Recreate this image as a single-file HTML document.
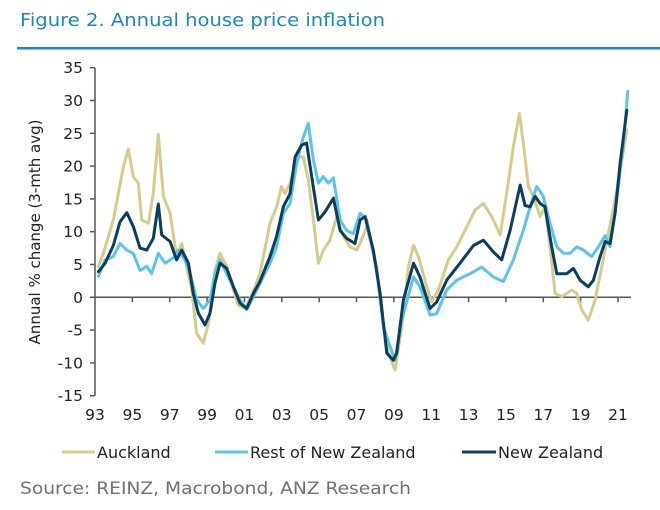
<!DOCTYPE html>
<html><head><meta charset="utf-8"><style>
body{margin:0;background:#fff;width:660px;height:506px;overflow:hidden;font-family:"DejaVu Sans",sans-serif}
</style></head><body>
<svg id="chart" width="660" height="506" xmlns="http://www.w3.org/2000/svg" font-family="DejaVu Sans, sans-serif">
<text x="20" y="26" font-size="18" fill="#1a86c6" textLength="365" lengthAdjust="spacingAndGlyphs">Figure 2. Annual house price inflation</text>
<rect x="17" y="47" width="643" height="2.5" fill="#1a86c6"/>
<text transform="translate(40,232) rotate(-90)" text-anchor="middle" font-size="15" fill="#222">Annual % change (3-mth avg)</text>
<g id="axes"></g>
<g id="series"></g>
<g>
<line x1="62" y1="452" x2="95" y2="452" stroke="#d4cc8c" stroke-width="3"/>
<text x="97" y="458" font-size="16" fill="#222">Auckland</text>
<line x1="215" y1="452" x2="248" y2="452" stroke="#5bc4e8" stroke-width="3"/>
<text x="250" y="458" font-size="16" fill="#222">Rest of New Zealand</text>
<line x1="462" y1="452" x2="496" y2="452" stroke="#0b3d5e" stroke-width="3"/>
<text x="498" y="458" font-size="16" fill="#222">New Zealand</text>
</g>
<text x="20" y="494" font-size="17" fill="#707070" textLength="391" lengthAdjust="spacingAndGlyphs">Source: REINZ, Macrobond, ANZ Research</text>
</svg>
<script>
const yTicks=[35,30,25,20,15,10,5,0,-5,-10,-15];
const xTickYears=[1993,1995,1997,1999,2001,2003,2005,2007,2009,2011,2013,2015,2017,2019,2021];
const xTickLabels=["93","95","97","99","01","03","05","07","09","11","13","15","17","19","21"];
const nzT=[1993.18,1993.54,1993.98,1994.34,1994.70,1995.05,1995.41,1995.77,1996.12,1996.39,1996.57,1997.02,1997.37,1997.64,1998.00,1998.26,1998.53,1998.89,1999.16,1999.42,1999.69,2000.05,2000.41,2000.76,2001.12,2001.48,2001.83,2002.37,2002.72,2003.08,2003.44,2003.71,2004.06,2004.33,2004.60,2004.96,2005.31,2005.76,2006.12,2006.47,2006.92,2007.19,2007.46,2007.90,2008.26,2008.62,2008.97,2009.15,2009.51,2010.05,2010.40,2010.94,2011.29,2011.83,2012.54,2013.26,2013.79,2014.33,2014.77,2015.22,2015.58,2015.76,2016.02,2016.29,2016.56,2016.83,2017.09,2017.45,2017.72,2018.25,2018.61,2018.97,2019.41,2019.68,2020.04,2020.31,2020.57,2020.84,2021.11,2021.47];
const nzV=[3.9,5.2,7.9,11.5,12.9,10.8,7.5,7.2,9.0,14.2,9.5,8.5,5.7,7.2,5.2,0.6,-2.4,-4.2,-2.4,2.1,5.2,4.4,1.6,-0.9,-1.7,0.6,2.4,6.2,9.3,13.8,15.8,21.4,23.2,23.5,18.4,11.8,13.0,15.1,10.2,9.0,8.2,11.8,12.3,7.2,0.6,-8.5,-9.6,-8.5,-0.4,5.2,3.1,-1.7,-0.7,2.6,5.2,7.9,8.7,6.9,5.7,10.2,14.8,17.1,14.0,13.8,15.4,14.3,13.8,7.7,3.6,3.6,4.4,2.6,1.6,2.6,6.2,8.5,8.2,12.8,20.4,28.5];
const aklT=[1993.18,1993.45,1993.98,1994.52,1994.78,1995.05,1995.32,1995.50,1995.86,1996.12,1996.39,1996.66,1997.02,1997.37,1997.64,1997.91,1998.18,1998.44,1998.80,1999.07,1999.42,1999.69,2000.05,2000.41,2000.67,2001.03,2001.48,2001.83,2002.37,2002.72,2002.99,2003.17,2003.44,2003.80,2004.15,2004.42,2004.69,2004.96,2005.22,2005.58,2005.94,2006.29,2006.65,2007.01,2007.19,2007.55,2008.08,2008.44,2008.71,2009.06,2009.42,2009.78,2010.05,2010.31,2010.76,2011.03,2011.38,2011.92,2012.37,2012.72,2013.35,2013.79,2014.24,2014.69,2015.04,2015.40,2015.72,2015.93,2016.20,2016.47,2016.83,2017.09,2017.36,2017.63,2017.99,2018.52,2018.79,2019.06,2019.41,2019.77,2020.13,2020.48,2020.84,2021.20,2021.47];
const aklV=[4.7,6.7,11.8,19.9,22.6,18.4,17.4,11.8,11.3,15.9,24.8,15.4,12.8,6.2,8.2,4.7,1.1,-5.5,-7.0,-4.0,4.1,6.7,4.7,1.1,-1.2,-1.7,0.9,3.6,11.3,13.8,16.9,15.8,17.4,21.4,21.4,17.9,11.8,5.2,7.2,8.7,12.3,9.3,7.7,7.2,8.2,10.8,4.7,-4.5,-8.5,-11.1,-4.5,4.7,7.9,6.2,1.6,-0.7,1.1,5.7,7.7,9.7,13.3,14.3,12.3,9.5,15.9,23.0,28.0,23.5,16.9,15.4,12.3,13.8,7.7,0.6,0.1,1.1,0.6,-1.9,-3.5,-0.4,4.7,9.7,14.8,20.9,25.5];
const restT=[1993.18,1993.54,1993.98,1994.34,1994.70,1995.05,1995.41,1995.77,1996.03,1996.39,1996.75,1997.19,1997.46,1997.82,1998.09,1998.44,1998.80,1999.16,1999.42,1999.69,2000.05,2000.41,2000.76,2001.12,2001.48,2001.83,2002.37,2002.72,2003.08,2003.44,2003.80,2004.15,2004.42,2004.69,2004.96,2005.22,2005.49,2005.76,2006.12,2006.47,2006.83,2007.19,2007.55,2008.08,2008.44,2008.80,2009.06,2009.42,2010.05,2010.40,2010.94,2011.29,2011.83,2012.37,2013.08,2013.70,2014.33,2014.86,2015.40,2015.93,2016.29,2016.65,2017.00,2017.36,2017.72,2018.08,2018.43,2018.79,2019.15,2019.59,2019.95,2020.31,2020.57,2020.93,2021.29,2021.52];
const restV=[3.2,5.7,6.2,8.2,7.2,6.7,4.1,4.7,3.6,6.7,5.2,6.0,7.2,5.7,3.6,-0.4,-1.7,-0.4,3.6,5.7,3.6,1.6,-0.4,-1.9,0.1,2.1,5.2,7.7,12.8,14.3,20.4,24.4,26.5,20.9,17.4,18.4,17.4,18.2,11.8,10.2,9.7,12.8,11.8,4.1,-4.5,-7.5,-9.6,-3.5,3.1,1.6,-2.7,-2.5,1.1,2.6,3.6,4.6,3.1,2.4,5.7,10.2,13.8,16.9,15.4,11.3,7.7,6.7,6.7,7.7,7.2,6.2,7.7,9.4,7.7,14.8,23.5,31.4];

const NS="http://www.w3.org/2000/svg";
const X0=95,PXY=18.68,Y0=297.3,PXV=6.56;
function xs(t){return X0+(t-1993)*PXY;}
function ys(v){return Y0-v*PXV;}
const axes=document.getElementById('axes');
function mk(tag,attrs,parent){const e=document.createElementNS(NS,tag);for(const k in attrs)e.setAttribute(k,attrs[k]);parent.appendChild(e);return e;}
const yAxis=mk('line',{x1:X0,y1:ys(35),x2:X0,y2:ys(-15),stroke:'#555','stroke-width':1.5},axes);


const xAxis=mk('line',{x1:X0,y1:Y0,x2:631,y2:Y0,stroke:'#555','stroke-width':1.5},axes);


yTicks.forEach(v=>{
  mk('line',{x1:X0-5,y1:ys(v),x2:X0,y2:ys(v),stroke:'#555','stroke-width':1.5},axes);
  const t=mk('text',{x:X0-12,y:ys(v)+5.5,'text-anchor':'end','font-size':15.5,fill:'#222'},axes);
  t.textContent=v;
  
  
});
xTickYears.forEach((yr,i)=>{
  if(i>0)mk('line',{x1:xs(yr),y1:Y0,x2:xs(yr),y2:Y0+5,stroke:'#555','stroke-width':1.5},axes);
  const t=mk('text',{x:xs(yr),y:420,'text-anchor':'middle','font-size':15.5,fill:'#222'},axes);
  t.textContent=xTickLabels[i];
  
  
});
const series=document.getElementById('series');
function draw(T,V,color,name){
  const d=T.map((t,i)=>(i?'L':'M')+xs(t).toFixed(1)+','+ys(V[i]).toFixed(1)).join(' ');
  const p=mk('path',{d:d,fill:'none',stroke:color,'stroke-width':3,'stroke-linejoin':'round','stroke-linecap':'round'},series);
  
  
}
draw(aklT,aklV,'#d4cc8c','auckland-line');
draw(restT,restV,'#5bc4e8','rest-of-nz-line');
draw(nzT,nzV,'#0b3d5e','new-zealand-line');
</script>
</body></html>
